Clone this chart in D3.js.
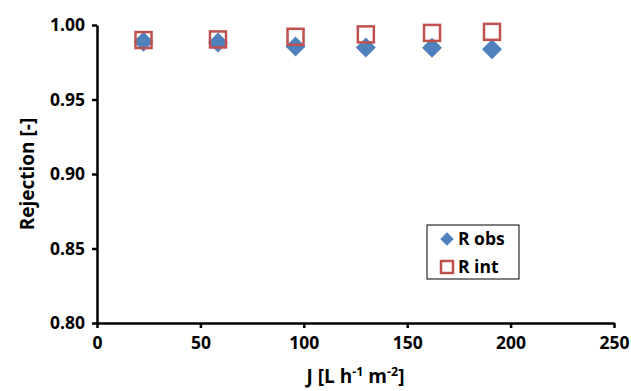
<!DOCTYPE html>
<html>
<head>
<meta charset="utf-8">
<script src="https://cdn.jsdelivr.net/npm/d3@7"></script>
<style>
  body { margin: 0; background: #fff; }
  svg text { font-family: "Open Sans", sans-serif; font-weight: 700; fill: #000; }
  .axis path, .axis line { stroke: #000; stroke-width: 2.5; }
</style>
</head>
<body>
<svg width="631" height="391"></svg>
<script>
// flux values (x) and rejections
var flux = [22.5, 58.5, 96, 130, 162, 191];
var rObs = [0.9888, 0.9882, 0.9855, 0.9849, 0.9848, 0.9838];
var rInt = [0.9899, 0.9903, 0.9921, 0.9937, 0.9947, 0.9954];
var xTicks = [0, 50, 100, 150, 200, 250];
var yTicks = [0.80, 0.85, 0.90, 0.95, 1.00];

var svg = d3.select("svg");

var x = d3.scaleLinear().domain([0, 250]).range([97, 614]);
var y = d3.scaleLinear().domain([0.80, 1.00]).range([323, 25]);

// axes
svg.append("g")
    .attr("class", "axis")
    .attr("transform", "translate(0," + y(0.80) + ")")
    .call(d3.axisBottom(x).tickValues(xTicks).tickSize(5).tickSizeOuter(0).tickPadding(9)
      .tickFormat(d3.format("d")))
    .call(function (g) { g.selectAll("text").style("font-size", "17.5px"); });

svg.append("g")
    .attr("class", "axis")
    .attr("transform", "translate(" + x(0) + ",0)")
    .call(d3.axisLeft(y).tickValues(yTicks).tickSize(5).tickSizeOuter(0).tickPadding(7)
      .tickFormat(d3.format(".2f")))
    .call(function (g) { g.selectAll("text").style("font-size", "17.5px"); });

// axis titles
svg.append("text")
    .attr("transform", "translate(27," + ((y(0.80) + y(1.00)) / 2) + ") rotate(-90)")
    .attr("text-anchor", "middle")
    .attr("dy", "0.35em")
    .style("font-size", "19px")
    .text("Rejection [-]");

var xt = svg.append("text")
    .attr("x", (x(0) + x(250)) / 2)
    .attr("y", 383)
    .attr("text-anchor", "middle")
    .style("font-size", "19px");
xt.append("tspan").text("J [L h");
xt.append("tspan").attr("dy", -7).style("font-size", "12.5px").text("-1");
xt.append("tspan").attr("dy", 7).text(" m");
xt.append("tspan").attr("dy", -7).style("font-size", "12.5px").text("-2");
xt.append("tspan").attr("dy", 7).text("]");

var diamond = d3.symbol().type(d3.symbolSquare).size(200);

// R obs diamonds
svg.append("g").selectAll("path")
    .data(flux)
    .join("path")
    .attr("d", diamond)
    .attr("transform", function (d, i) { return "translate(" + x(d) + "," + y(rObs[i]) + ") rotate(45)"; })
    .attr("fill", "#4f81bd");

// R int open squares
svg.append("g").selectAll("rect")
    .data(flux)
    .join("rect")
    .attr("x", function (d) { return x(d) - 8; })
    .attr("y", function (d, i) { return y(rInt[i]) - 8; })
    .attr("width", 16).attr("height", 16)
    .attr("fill", "none")
    .attr("stroke", "#c0504d")
    .attr("stroke-width", 2.5);

// legend
var lg = svg.append("g").attr("transform", "translate(427,225)");
lg.append("rect")
    .attr("width", 92).attr("height", 54)
    .attr("fill", "#fff").attr("stroke", "#000").attr("stroke-width", 1);
lg.append("path")
    .attr("d", d3.symbol().type(d3.symbolSquare).size(90))
    .attr("transform", "translate(20,14) rotate(45)")
    .attr("fill", "#4f81bd");
lg.append("rect")
    .attr("x", 14).attr("y", 36).attr("width", 12).attr("height", 12)
    .attr("fill", "none").attr("stroke", "#c0504d").attr("stroke-width", 2.5);
lg.append("text").attr("x", 31).attr("y", 14).attr("dy", "0.35em")
    .style("font-size", "17.5px").text("R obs");
lg.append("text").attr("x", 31).attr("y", 42).attr("dy", "0.35em")
    .style("font-size", "17.5px").text("R int");
</script>
</body>
</html>
